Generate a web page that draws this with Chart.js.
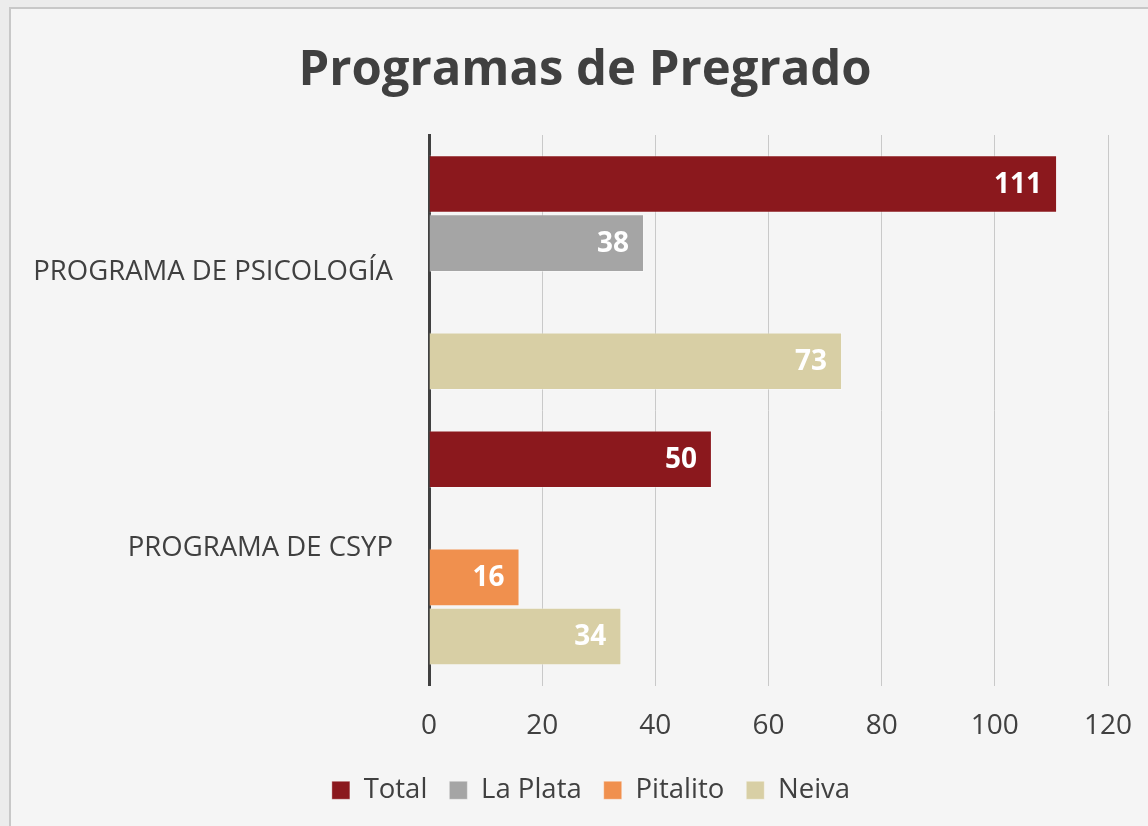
<!DOCTYPE html>
<html>
<head>
<meta charset="utf-8">
<script src="https://cdn.jsdelivr.net/npm/chart.js@4.4.0/dist/chart.umd.min.js"></script>
<style>
  html, body { margin: 0; padding: 0; background: #ececec; }
  #wrap { width: 1148px; height: 826px; position: relative; }
  canvas { display: block; }
</style>
</head>
<body>
<div id="wrap"><canvas id="c" width="1148" height="826"></canvas></div>
<script>
const categories = ['PROGRAMA DE PSICOLOGÍA', 'PROGRAMA DE CSYP'];
const seriesNames = ['Total', 'La Plata', 'Pitalito', 'Neiva'];
const totalValues = [111, 50];
const laPlataValues = [38, null];
const pitalitoValues = [null, 16];
const neivaValues = [73, 34];
const xTicks = [0, 20, 40, 60, 80, 100, 120];
const titleText = 'Programas de Pregrado';
const colors = ['#8B181D', '#A5A5A5', '#F0904E', '#D8CFA5'];

const FONT = '"Open Sans", "Liberation Sans", sans-serif';

const bgPlugin = {
  id: 'bg',
  beforeDraw(chart) {
    const ctx = chart.ctx;
    ctx.save();
    ctx.fillStyle = '#ececec';
    ctx.fillRect(0, 0, chart.width, chart.height);
    ctx.fillStyle = '#f5f5f5';
    ctx.fillRect(10, 8, chart.width - 10, chart.height - 8);
    ctx.strokeStyle = '#c8c8c8';
    ctx.lineWidth = 2;
    ctx.strokeRect(10, 8, chart.width + 10, chart.height + 10);
    // title
    ctx.fillStyle = '#404040';
    ctx.font = 'bold 49px ' + FONT;
    ctx.textAlign = 'center';
    ctx.textBaseline = 'alphabetic';
    ctx.fillText(titleText, 585, 85);
    ctx.restore();
  }
};

const legendShift = {
  id: 'legendShift',
  afterLayout(chart) {
    const lg = chart.legend;
    if (lg) { lg.left += 32; lg.right += 32; }
  }
};

const labelPlugin = {
  id: 'barLabels',
  afterDatasetsDraw(chart) {
    const ctx = chart.ctx;
    ctx.save();
    ctx.fillStyle = '#ffffff';
    ctx.font = 'bold 28px ' + FONT;
    ctx.textAlign = 'right';
    ctx.textBaseline = 'middle';
    chart.data.datasets.forEach((ds, i) => {
      const meta = chart.getDatasetMeta(i);
      meta.data.forEach((bar, j) => {
        const v = ds.data[j];
        if (v === null || v === undefined) return;
        ctx.fillText(String(v), bar.x - 15, bar.y + 1);
      });
    });
    ctx.restore();
  }
};

new Chart(document.getElementById('c'), {
  type: 'bar',
  data: {
    labels: categories,
    datasets: [
      { label: seriesNames[0], data: totalValues, backgroundColor: colors[0] },
      { label: seriesNames[1], data: laPlataValues, backgroundColor: colors[1] },
      { label: seriesNames[2], data: pitalitoValues, backgroundColor: colors[2] },
      { label: seriesNames[3], data: neivaValues, backgroundColor: colors[3] }
    ].map(d => Object.assign(d, {
      borderColor: 'rgba(255,255,255,0.35)',
      borderWidth: 1,
      categoryPercentage: 0.858,
      barPercentage: 0.975
    }))
  },
  options: {
    indexAxis: 'y',
    responsive: false,
    animation: false,
    layout: { padding: { left: 10, right: 40, top: 135, bottom: 12 } },
    scales: {
      x: {
        min: 0,
        max: 120,
        afterBuildTicks(scale) { scale.ticks = xTicks.map(v => ({ value: v })); },
        grid: { color: '#c9c9c9', lineWidth: 1, drawTicks: false },
        border: { display: false },
        ticks: { color: '#404040', font: { family: FONT, size: 28 }, padding: 24 },
        afterFit(scale) { scale.height = 69; scale.paddingRight = 0; scale.paddingLeft = 0; }
      },
      y: {
        grid: { display: false, drawTicks: false },
        border: { display: true, color: '#404040', width: 3 },
        ticks: { color: '#404040', font: { family: FONT, size: 27.5 }, padding: 36 },
        afterFit(scale) { scale.width = 419; }
      }
    },
    plugins: {
      title: { display: false },
      legend: {
        position: 'bottom',
        labels: {
          color: '#404040',
          font: { family: FONT, size: 27.5 },
          boxWidth: 18,
          boxHeight: 18,
          padding: 22
        }
      },
      tooltip: { enabled: false }
    }
  },
  plugins: [bgPlugin, legendShift, labelPlugin]
});
</script>
</body>
</html>
